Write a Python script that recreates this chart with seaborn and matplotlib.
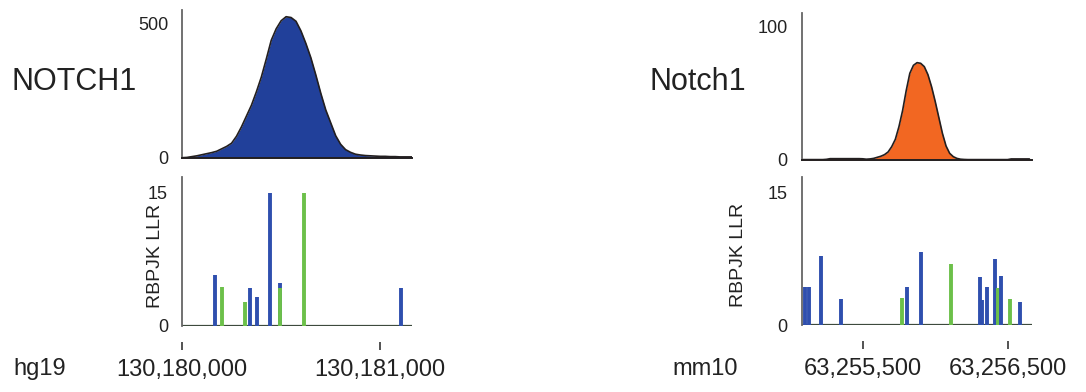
import matplotlib
matplotlib.use("Agg")
import matplotlib.pyplot as plt
import seaborn as sns
import numpy as np
import pandas as pd

# ---------------- data ----------------
# Human (hg19) coverage track
hs_pos = [130180000 + d for d in
          [0, 25, 50, 75, 100, 125, 150, 175, 200, 225, 250, 275, 300, 325, 350, 375,
           400, 425, 450, 475, 500, 525, 550, 575, 600, 625, 650, 675, 700, 725, 750,
           775, 800, 825, 850, 875, 900, 925, 950, 975, 1000, 1025, 1050, 1075, 1100,
           1125, 1150, 1160]]
hs_cov = [0, 1, 4, 7, 11, 15, 19, 24, 33, 42, 54, 80, 115, 155, 195, 245,
          300, 367, 437, 480, 510, 525, 522, 508, 472, 425, 372, 308, 240, 178, 130,
          82, 50, 30, 20, 13, 10, 8, 7, 6, 5, 5, 4, 4, 3, 3, 3, 3]

# Human RBPJK motif sites
hs_site_pos = [130180164, 130180203, 130180316, 130180341, 130180376, 130180445,
               130180496, 130180496, 130180613, 130181107]
hs_site_llr = [5.75, 4.35, 2.75, 4.3, 3.3, 15.0, 4.9, 4.3, 15.0, 4.3]
hs_site_kind = ["blue", "green", "green", "blue", "blue", "blue", "blue", "green", "green", "blue"]

# Mouse (mm10) coverage track
mm_pos = [63255075 + 25 * i for i in range(64)]
mm_cov = [0.3, 0.3, 0.3, 0.3, 0.3, 0.3, 0.3, 0.5, 1.0, 1.0, 1.0, 1.0, 1.0, 1.0, 1.0, 1.0,
          1.0, 0.9, 0.6, 0.8, 1.2, 2.0, 2.8, 4.0, 6.0, 10, 15.5, 25, 37, 52, 65, 71,
          73, 72.5, 70, 64, 55, 44, 32, 20, 10.5, 5, 2.5, 1.2, 0.6, 0.4, 0.3, 0.3,
          0.3, 0.3, 0.3, 0.3, 0.3, 0.3, 0.3, 0.3, 0.3, 0.3, 0.8, 0.8, 0.8, 0.8, 0.8, 0.8]

# Mouse RBPJK motif sites
mm_site_pos = [63255102, 63255130, 63255212, 63255348, 63255771, 63255808, 63255900,
               63256107, 63256307, 63256325, 63256359, 63256412, 63256435, 63256454,
               63256518, 63256585]
mm_site_llr = [4.27, 4.27, 7.85, 2.94, 3.1, 4.27, 8.27, 6.9, 5.47, 2.83, 4.27, 7.44,
               4.15, 5.59, 2.94, 2.6]
mm_site_kind = ["blue", "blue", "blue", "blue", "green", "blue", "blue", "green", "blue",
                "blue", "blue", "blue", "green", "blue", "green", "blue"]

hs_ticks = [130180000, 130181000]
mm_ticks = [63255500, 63256500]
hs_gene, mm_gene = "NOTCH1", "Notch1"
hs_build, mm_build = "hg19", "mm10"
ylabel_text = "RBPJK LLR"

# ---------------- style ----------------
sns.set_theme(style="white")
plt.rcParams["font.family"] = ["Liberation Sans", "DejaVu Sans"]

BLUE_FILL = "#21409A"
ORANGE_FILL = "#F26722"
EDGE = "#231F20"
SITE_COLORS = {"blue": "#2F4FAE", "green": "#6CC04A"}
SPINE = "#666666"

fig = plt.figure(figsize=(10.86, 3.92), dpi=100)

W, H = 1086, 392
def axes_px(x0, y0, x1, y1):
    return fig.add_axes([x0 / W, 1 - y1 / H, (x1 - x0) / W, (y1 - y0) / H])

ax_hs_top = axes_px(182, 10, 412, 157.7)
ax_hs_bot = axes_px(182, 177, 412, 326)
ax_mm_top = axes_px(801.7, 13.3, 1031.7, 160)
ax_mm_bot = axes_px(801.7, 176.7, 1031.7, 325)

def style_top(ax, pos, cov, fill, ymax, ytick, xlim):
    df = pd.DataFrame({"pos": pos, "cov": cov})
    ax.fill_between(df["pos"], df["cov"], 0, color=fill, lw=0)
    sns.lineplot(data=df, x="pos", y="cov", ax=ax, color=EDGE, lw=1.2)
    ax.set_xlim(*xlim)
    ax.set_ylim(0, ymax)
    ax.set_yticks([0, ytick])
    ax.set_yticklabels(["0", str(ytick)])
    ax.set_xticks([])
    ax.set_xlabel("")
    ax.set_ylabel("")
    for s in ["top", "right"]:
        ax.spines[s].set_visible(False)
    ax.spines["left"].set_color(SPINE)
    ax.spines["left"].set_linewidth(1.3)
    ax.spines["bottom"].set_color(EDGE)
    ax.spines["bottom"].set_linewidth(1.4)
    ax.tick_params(axis="y", length=0, pad=10, labelsize=13, colors="#222222")

def style_bot(ax, pos, llr, kind, xlim, ticks, label_x):
    for p, v, k in zip(pos, llr, kind):
        ax.vlines(p, 0, v, color=SITE_COLORS[k], lw=2.8)
    ax.axhline(0, color="#3D4A3D", lw=1.6, zorder=0)
    ax.set_xlim(*xlim)
    ax.set_ylim(0, 16.8)
    ax.set_yticks([0, 15])
    ax.set_yticklabels(["0", "15"])
    ax.set_xticks(ticks)
    ax.set_xticklabels([f"{t:,}" for t in ticks])
    for s in ["top", "right"]:
        ax.spines[s].set_visible(False)
    ax.spines["left"].set_color(SPINE)
    ax.spines["left"].set_linewidth(1.3)
    ax.spines["bottom"].set_position(("outward", 11.5))
    ax.spines["bottom"].set_color("none")
    ax.tick_params(axis="y", length=0, pad=10, labelsize=13, colors="#222222")
    ax.tick_params(axis="x", direction="out", length=6, width=1.3, color="#444444",
                   pad=6, labelsize=17, labelcolor="#222222", bottom=True)
    ax.set_ylabel(ylabel_text, fontsize=14, color="#222222")
    ax.yaxis.set_label_coords(label_x, 0.47)

style_top(ax_hs_top, hs_pos, hs_cov, BLUE_FILL, 550, 500, (130180000, 130181160))
style_top(ax_mm_top, mm_pos, mm_cov, ORANGE_FILL, 110, 100, (63255079, 63256666))
style_bot(ax_hs_bot, hs_site_pos, hs_site_llr, hs_site_kind,
          (130180000, 130181160), hs_ticks, -0.078)
style_bot(ax_mm_bot, mm_site_pos, mm_site_llr, mm_site_kind,
          (63255079, 63256666), mm_ticks, -0.238)

fig.text(12 / W, 1 - 82 / H, hs_gene, fontsize=22, ha="left", va="center", color="#222222")
fig.text(650 / W, 1 - 82 / H, mm_gene, fontsize=22, ha="left", va="center", color="#222222")
fig.text(40 / W, 1 - 369 / H, hs_build, fontsize=17, ha="center", va="center", color="#222222")
fig.text(705 / W, 1 - 369 / H, mm_build, fontsize=17, ha="center", va="center", color="#222222")

fig.savefig("out.png", dpi=100, facecolor="white")
